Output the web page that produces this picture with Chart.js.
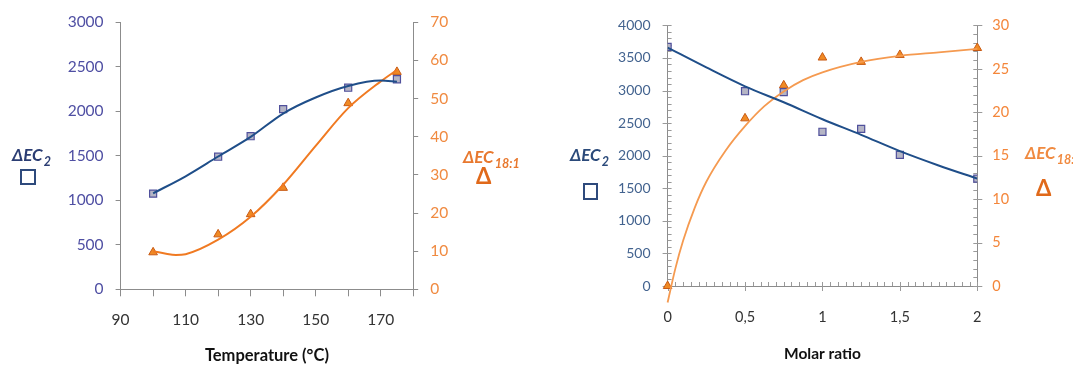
<!DOCTYPE html>
<html><head><meta charset="utf-8">
<script src="https://cdn.jsdelivr.net/npm/chart.js@4"></script>
<style>
html,body{margin:0;padding:0;background:#fff;}
#wrap{position:relative;width:1073px;height:367px;overflow:hidden;background:#fff;font-family:Lato,sans-serif;}
.box{position:absolute;top:0;height:367px;}
.lbl{position:absolute;font-weight:bold;font-style:italic;font-size:17px;line-height:17px;white-space:nowrap;}
.lbl sub{font-size:12.5px;vertical-align:baseline;position:relative;top:5px;margin-left:1px;}
.sq{position:absolute;box-sizing:border-box;border:2.5px solid #2e4a7c;}
.tri{position:absolute;font-weight:bold;font-size:22px;line-height:22px;}
</style></head><body>
<div id="wrap">
 <div class="box" style="left:0;width:540px"><canvas id="c1"></canvas></div>
 <div class="box" style="left:540px;width:533px"><canvas id="c2"></canvas></div>
 <div class="lbl" style="left:12px;top:146px;color:#2b3d73">ΔEC<sub>2</sub></div>
 <div class="sq" style="left:20px;top:169px;width:16px;height:16px;border-color:#2e4a7c"></div>
 <div class="lbl" style="left:463px;top:148px;color:#e8782e">ΔEC<sub>18:1</sub></div>
 <div class="tri" style="left:476px;top:165px;color:#e0691a">Δ</div>
 <div class="lbl" style="left:570px;top:146px;color:#2b4a7a">ΔEC<sub>2</sub></div>
 <div class="sq" style="left:583px;top:183px;width:15px;height:17px;border-color:#2e4a7c"></div>
 <div class="lbl" style="left:1025px;top:144px;color:#f08a40">ΔEC<sub>18:1</sub></div>
 <div class="tri" style="left:1036px;top:177px;color:#e0691a">Δ</div>
</div>
<script>
// ---- Left chart: Temperature ----
const tempX      = [100, 120, 130, 140, 160, 175];
const tempEC2    = [1075, 1490, 1720, 2025, 2265, 2360];
const tempEC181  = [9.7, 14.4, 19.7, 26.6, 48.8, 57.0];
// trend lines
const tempFitEC2X   = [100, 110, 120, 130, 140, 150, 160, 170, 175];
const tempFitEC2Y   = [1078, 1270, 1492, 1712, 1975, 2155, 2284, 2345, 2332];
const tempFitEC181X = [100, 104, 107, 110, 120, 130, 140, 150, 160, 170, 175];
const tempFitEC181Y = [10.0, 9.3, 9.0, 9.2, 13.0, 19.0, 27.4, 37.6, 47.5, 54.5, 57.5];
const tempTicksX    = [90, 110, 130, 150, 170];

// ---- Right chart: Molar ratio ----
const molarX      = [0, 0.5, 0.75, 1, 1.25, 1.5, 2];
const molarEC2    = [3670, 2990, 2975, 2367, 2412, 2012, 1648];
const molarEC181  = [0, 19.3, 23.1, 26.3, 25.8, 26.6, 27.4];
const molarFitEC2X   = [0, 0.25, 0.5, 0.75, 1, 1.25, 1.5, 1.75, 2];
const molarFitEC2Y   = [3660, 3355, 3065, 2820, 2560, 2320, 2070, 1850, 1648];
const molarFitEC181X = [0, 0.05, 0.1, 0.175, 0.25, 0.375, 0.5, 0.625, 0.75, 0.875, 1, 1.25, 1.5, 1.75, 2];
const molarFitEC181Y = [-1.9, 2.0, 5.2, 9.0, 12.0, 15.6, 18.4, 20.7, 22.4, 23.7, 24.6, 25.8, 26.5, 26.9, 27.3];

const pts = (xs, ys) => xs.map((x, i) => ({x, y: ys[i]}));
const FONT = 'Lato';
const AX = '#8c8c8c';
const plain = v => String(v);

new Chart(document.getElementById('c1'), {
  type: 'scatter',
  data: { datasets: [
    { data: pts(tempFitEC2X, tempFitEC2Y), showLine: true, pointRadius: 0, borderColor: '#1f4e89', borderWidth: 2, cubicInterpolationMode: 'monotone', yAxisID: 'y' },
    { data: pts(tempFitEC181X, tempFitEC181Y), showLine: true, pointRadius: 0, borderColor: '#f07a22', borderWidth: 2, cubicInterpolationMode: 'monotone', yAxisID: 'y2' },
    { data: pts(tempX, tempEC2), pointStyle: 'rect', pointRadius: 5, backgroundColor: '#b5b5c5', borderColor: '#50509c', borderWidth: 1.2, yAxisID: 'y' },
    { data: pts(tempX, tempEC181), pointStyle: 'triangle', pointRadius: 5, backgroundColor: '#f08a24', borderColor: '#c85a14', borderWidth: 1, yAxisID: 'y2' }
  ]},
  options: {
    responsive: true, maintainAspectRatio: false, animation: false,
    layout: { padding: { top: 22.3, left: 0, right: 0, bottom: 0 } },
    plugins: { legend: { display: false }, tooltip: { enabled: false } },
    scales: {
      x: { type: 'linear', min: 90, max: 180,
        ticks: { stepSize: 10, autoSkip: false, maxRotation: 0, padding: 14, color: '#333', font: { family: FONT, size: 15.5 },
          callback: v => tempTicksX.includes(v) ? String(v) : '' },
        grid: { drawOnChartArea: false, tickLength: 7, color: AX },
        border: { color: AX },
        title: { display: true, text: 'Temperature (°C)', color: '#111', font: { family: FONT, size: 16.5, weight: 'bold' }, padding: { top: 0, bottom: 1 } },
        afterFit: s => { s.height = 77.7; } },
      y: { type: 'linear', position: 'left', min: 0, max: 3000,
        ticks: { stepSize: 500, padding: 12, color: '#4f4fa3', font: { family: FONT, size: 15.5 }, callback: plain },
        grid: { drawOnChartArea: false, tickLength: 5, color: AX },
        border: { color: AX },
        afterFit: s => { s.width = 120.6; } },
      y2: { type: 'linear', position: 'right', min: 0, max: 70,
        ticks: { stepSize: 10, padding: 12, color: '#f08a40', font: { family: FONT, size: 15.5 }, callback: plain },
        grid: { drawOnChartArea: false, tickLength: 5, color: AX },
        border: { color: AX },
        afterFit: s => { s.width = 126.8; } }
    }
  }
});

// minor/major tick marks of the right chart (axis decoration)
const tickMarks = {
  id: 'tickMarks',
  beforeDatasetsDraw(chart) {
    const {ctx, chartArea: a, scales} = chart;
    ctx.save();
    ctx.strokeStyle = '#9a9a9a'; ctx.lineWidth = 1;
    ctx.beginPath();
    for (let i = 0; i <= 40; i++) {
      const v = i * 100, p = Math.round(scales.y.getPixelForValue(v)) + 0.5, major = i % 5 === 0;
      ctx.moveTo(a.left - (major ? 5 : 0), p); ctx.lineTo(a.left + 4, p);
    }
    for (let i = 0; i <= 30; i++) {
      const p = Math.round(scales.y2.getPixelForValue(i)) + 0.5, major = i % 5 === 0;
      ctx.moveTo(a.right - 4, p); ctx.lineTo(a.right + (major ? 5 : 0), p);
    }
    for (let i = 0; i <= 40; i++) {
      const p = Math.round(scales.x.getPixelForValue(i * 0.05)) + 0.5, major = i % 10 === 0;
      ctx.moveTo(p, a.bottom - 4); ctx.lineTo(p, a.bottom + (major ? 5 : 0));
    }
    ctx.stroke();
    ctx.restore();
  }
};

new Chart(document.getElementById('c2'), {
  type: 'scatter',
  plugins: [tickMarks],
  data: { datasets: [
    { data: pts(molarFitEC2X, molarFitEC2Y), showLine: true, pointRadius: 0, borderColor: '#1f4e89', borderWidth: 2, cubicInterpolationMode: 'monotone', yAxisID: 'y' },
    { data: pts(molarFitEC181X, molarFitEC181Y), showLine: true, pointRadius: 0, borderColor: '#f59a50', borderWidth: 1.8, cubicInterpolationMode: 'monotone', yAxisID: 'y2', clip: false },
    { data: pts(molarX, molarEC2), pointStyle: 'rect', pointRadius: 5, backgroundColor: '#b5b5c5', borderColor: '#50509c', borderWidth: 1.2, yAxisID: 'y' },
    { data: pts(molarX, molarEC181), pointStyle: 'triangle', pointRadius: 5, backgroundColor: '#f08a24', borderColor: '#c85a14', borderWidth: 1, yAxisID: 'y2', clip: false }
  ]},
  options: {
    responsive: true, maintainAspectRatio: false, animation: false,
    layout: { padding: { top: 19, left: 0, right: 0, bottom: 0 } },
    plugins: { legend: { display: false }, tooltip: { enabled: false } },
    scales: {
      x: { type: 'linear', min: 0, max: 2,
        ticks: { stepSize: 0.5, autoSkip: false, maxRotation: 0, padding: 23, color: '#333', font: { family: FONT, size: 14.5 },
          callback: v => String(v).replace('.', ',') },
        grid: { drawOnChartArea: false, drawTicks: false, color: AX },
        border: { color: AX },
        title: { display: true, text: 'Molar ratio', color: '#111', font: { family: FONT, size: 15.5, weight: 'bold' }, padding: { top: 0, bottom: 4 } },
        afterFit: s => { s.height = 81; } },
      y: { type: 'linear', position: 'left', min: 0, max: 4000,
        ticks: { stepSize: 500, padding: 17, color: '#43638f', font: { family: FONT, size: 14 }, callback: plain },
        grid: { drawOnChartArea: false, drawTicks: false, color: AX },
        border: { color: AX },
        afterFit: s => { s.width = 127.6; } },
      y2: { type: 'linear', position: 'right', min: 0, max: 30,
        ticks: { stepSize: 5, padding: 15, color: '#f4863a', font: { family: FONT, size: 14.5 }, callback: plain },
        grid: { drawOnChartArea: false, drawTicks: false, color: AX },
        border: { color: AX },
        afterFit: s => { s.width = 95.7; } }
    }
  }
});
</script>
</body></html>
